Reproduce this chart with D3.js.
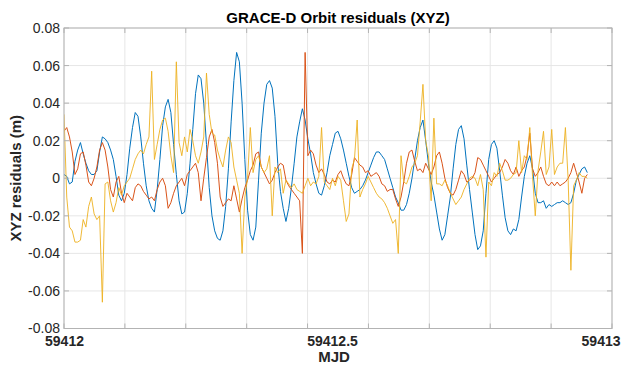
<!DOCTYPE html>
<html>
<head>
<meta charset="utf-8">
<script src="https://cdn.jsdelivr.net/npm/d3@7"></script>
<style>
  body { margin: 0; background: #fff; }
  svg { display: block; }
  text { font-family: "Liberation Sans", Arial, Helvetica, sans-serif; }
</style>
</head>
<body>
<svg id="chart" width="621" height="365"></svg>
<script>
// Sample spacing of the residual series (days), starting at MJD 59412
const t0 = 59412;
const dt = 0.005;

// X residuals (m) - blue
const xResid = [
  0.002, 0.001, -0.003, -0.002, 0.009, 0.015, 0.019, 0.013, 0.008, 0.004,
  0.002, 0.002, 0.004, 0.014, 0.022, 0.021, 0.019, 0.015, 0.010, 0.001,
  -0.009, -0.012, -0.008, 0.002, 0.016, 0.027, 0.035, 0.033, 0.022, 0.008,
  -0.004, -0.012, -0.016, -0.018, -0.006, 0.010, 0.028, 0.038, 0.042, 0.035,
  0.018, 0.002, -0.012, -0.019, -0.018, -0.008, 0.008, 0.026, 0.045, 0.055,
  0.053, 0.040, 0.018, -0.005, -0.020, -0.028, -0.032, -0.033, -0.028, -0.015,
  0.005, 0.030, 0.052, 0.067, 0.062, 0.040, 0.010, -0.017, -0.030, -0.033,
  -0.026, -0.001, 0.024, 0.040, 0.050, 0.052, 0.048, 0.033, 0.008, -0.007,
  -0.016, -0.023, -0.016, -0.005, 0.008, 0.022, 0.030, 0.037, 0.031, 0.021,
  0.013, 0.003, -0.003, -0.008, -0.009, -0.004, 0.003, 0.012, 0.018, 0.024,
  0.025, 0.021, 0.015, 0.008, 0.001, -0.005, -0.008, -0.007, -0.006, -0.004,
  -0.001, 0.003, 0.007, 0.011, 0.014, 0.014, 0.012, 0.010, 0.005, 0.000,
  -0.005, -0.010, -0.013, -0.017, -0.017, -0.014, -0.008, 0.000, 0.010, 0.020,
  0.027, 0.031, 0.020, 0.008, -0.002, -0.009, -0.018, -0.027, -0.033, -0.030,
  -0.020, -0.010, 0.005, 0.018, 0.026, 0.028, 0.021, 0.007, -0.006, -0.018,
  -0.030, -0.038, -0.036, -0.028, -0.008, 0.010, 0.018, 0.020, 0.016, 0.004,
  -0.009, -0.021, -0.028, -0.030, -0.027, -0.028, -0.022, -0.010, 0.001, 0.008,
  0.012, 0.005, -0.008, -0.013, -0.013, -0.012, -0.016, -0.014, -0.015, -0.014,
  -0.013, -0.013, -0.012, -0.013, -0.014, -0.013, -0.008, -0.001, 0.002, 0.005,
  0.006, 0.003
];

// Y residuals (m) - orange
const yResid = [
  0.025, 0.027, 0.022, 0.014, 0.002, 0.005, 0.013, 0.014, 0.007, -0.002,
  -0.004, 0.000, 0.006, 0.015, 0.019, 0.015, 0.006, -0.006, -0.010, -0.002,
  0.001, -0.008, -0.013, -0.008, -0.010, -0.012, -0.005, -0.003, -0.004, -0.007,
  -0.009, -0.011, -0.010, -0.012, -0.006, -0.002, 0.000, -0.004, -0.016, -0.013,
  -0.008, -0.004, -0.002, 0.000, -0.004, 0.002, 0.004, 0.006, 0.008, 0.003,
  -0.012, 0.000, 0.011, 0.022, 0.026, 0.019, 0.008, -0.010, -0.015, -0.013,
  -0.011, -0.012, -0.004, -0.011, -0.018, -0.011, -0.005, -0.001, 0.004, 0.007,
  0.013, 0.014, 0.006, 0.003, 0.000, -0.003, -0.001, 0.003, 0.006, 0.008,
  0.007, -0.001, -0.004, -0.006, -0.008, -0.010, -0.012, -0.040, 0.067, 0.012,
  0.015, 0.013, 0.007, 0.003, 0.005, 0.002, -0.002, -0.003, -0.001, -0.002,
  0.002, 0.004, 0.000, -0.003, -0.004, 0.002, 0.011, 0.009, 0.007, 0.006,
  0.003, 0.004, 0.001, 0.002, 0.003, 0.001, -0.003, -0.004, -0.007, -0.006,
  -0.006, -0.011, -0.015, -0.010, -0.002, 0.008, 0.014, 0.015, 0.009, 0.004,
  0.005, 0.003, 0.008, 0.005, 0.002, 0.006, 0.012, 0.014, 0.008, 0.000,
  -0.005, -0.008, -0.009, -0.006, -0.001, 0.004, 0.002, -0.002, -0.001, 0.000,
  0.003, 0.011, 0.010, 0.007, 0.004, 0.001, -0.002, 0.000, 0.002, 0.003,
  0.006, 0.010, 0.008, 0.004, 0.002, 0.006, 0.001, 0.004, 0.006, 0.012,
  0.024, 0.005, 0.001, 0.003, 0.006, 0.001, -0.003, -0.004, -0.002, -0.004,
  -0.002, -0.004, -0.003, -0.002, 0.000, 0.003, 0.008, 0.003, -0.002, -0.008,
  0.000, 0.002
];

// Z residuals (m) - yellow
const zResid = [
  0.034, -0.010, -0.026, -0.028, -0.034, -0.034, -0.033, -0.022, -0.026, -0.015,
  -0.010, -0.019, -0.022, -0.020, -0.066, -0.003, -0.002, -0.012, -0.018, -0.013,
  -0.005, -0.009, -0.004, -0.002, 0.000, 0.005, 0.010, 0.013, 0.015, 0.013,
  0.018, 0.022, 0.057, 0.010, 0.018, 0.026, 0.031, 0.032, 0.025, 0.012,
  0.003, 0.062, 0.019, 0.012, 0.022, 0.014, 0.026, 0.020, 0.012, 0.008,
  0.014, 0.022, 0.056, 0.034, 0.024, 0.023, 0.015, 0.010, 0.006, 0.015,
  0.022, 0.019, 0.006, -0.001, -0.008, -0.040, -0.010, 0.000, 0.027, 0.003,
  0.010, 0.012, 0.006, 0.003, 0.005, 0.012, -0.020, 0.006, 0.003, 0.005,
  -0.008, -0.001, -0.003, -0.005, -0.003, -0.006, -0.007, -0.008, -0.004, 0.000,
  -0.004, -0.002, -0.003, 0.001, 0.027, -0.002, -0.004, -0.006, 0.000, -0.004,
  0.001, -0.001, -0.012, -0.023, -0.019, 0.005, 0.010, 0.031, -0.010, -0.006,
  -0.003, 0.001, -0.002, -0.005, -0.008, -0.010, -0.011, -0.013, -0.016, -0.020,
  -0.024, -0.022, -0.040, 0.012, -0.002, -0.003, 0.001, 0.006, 0.008, 0.012,
  0.030, 0.050, 0.020, 0.012, -0.012, 0.032, -0.003, -0.003, -0.004, -0.001,
  -0.004, -0.008, -0.011, -0.014, -0.012, -0.010, -0.006, -0.003, 0.000, 0.001,
  0.000, -0.004, 0.002, -0.006, -0.042, -0.002, -0.004, 0.003, 0.001, 0.008,
  0.004, -0.001, -0.001, 0.000, 0.002, 0.003, 0.020, 0.003, 0.012, 0.010,
  0.027, 0.001, -0.020, 0.004, 0.014, 0.025, 0.002, 0.006, 0.026, 0.002,
  0.006, 0.008, 0.008, 0.027, -0.001, -0.049, -0.004, -0.001, 0.003, 0.001,
  0.001, 0.000
];

// Axis ticks and labels
const xDomain = [59412, 59413];
const xGridTicks = d3.range(10).map((i) => 59412 + i / 9);
const xLabelTicks = [59412, 59412.5, 59413];
const xLabelText = ["59412", "59412.5", "59413"];
const yTicks = [-0.08, -0.06, -0.04, -0.02, 0, 0.02, 0.04, 0.06, 0.08];

const series = [
  { name: "X", values: xResid, color: "#0072BD", width: 1 },
  { name: "Y", values: yResid, color: "#D95319", width: 1 },
  { name: "Z", values: zResid, color: "#EDB120", width: 0.9 },
];

const W = 621, H = 365;
const margin = { top: 28, right: 9, bottom: 36.5, left: 64 };
const w = W - margin.left - margin.right;
const h = H - margin.top - margin.bottom;

const svg = d3.select("#chart");
const g = svg.append("g").attr("transform", `translate(${margin.left},${margin.top})`);

const x = d3.scaleLinear().domain(xDomain).range([0, w]);
const y = d3.scaleLinear().domain([-0.08, 0.08]).range([h, 0]);

// Grid lines
g.append("g")
  .attr("class", "grid-x")
  .selectAll("line")
  .data(xGridTicks)
  .enter()
  .append("line")
  .attr("x1", (d) => x(d))
  .attr("x2", (d) => x(d))
  .attr("y1", 0)
  .attr("y2", h)
  .attr("stroke", "#e6e6e6")
  .attr("stroke-width", 1);

g.append("g")
  .attr("class", "grid-y")
  .selectAll("line")
  .data(yTicks)
  .enter()
  .append("line")
  .attr("x1", 0)
  .attr("x2", w)
  .attr("y1", (d) => y(d))
  .attr("y2", (d) => y(d))
  .attr("stroke", "#e6e6e6")
  .attr("stroke-width", 1);

// Residual lines, clipped to the axes box
svg.append("defs")
  .append("clipPath")
  .attr("id", "plot-clip")
  .append("rect")
  .attr("width", w)
  .attr("height", h);

const line = d3.line()
  .x((d, i) => x(t0 + i * dt))
  .y((d) => y(d));

g.append("g")
  .attr("clip-path", "url(#plot-clip)")
  .selectAll("path")
  .data(series)
  .enter()
  .append("path")
  .attr("d", (d) => line(d.values))
  .attr("fill", "none")
  .attr("stroke", (d) => d.color)
  .attr("stroke-width", (d) => d.width)
  .attr("stroke-linejoin", "round");

// Box with inward ticks on all four sides
const boxColor = "#b3b3b3";
const tickLen = 5;

g.append("rect")
  .attr("width", w)
  .attr("height", h)
  .attr("fill", "none")
  .attr("stroke", boxColor)
  .attr("stroke-width", 1);

const ticks = g.append("g").attr("stroke", boxColor).attr("stroke-width", 1);
xGridTicks.forEach((d) => {
  ticks.append("line").attr("x1", x(d)).attr("x2", x(d)).attr("y1", h).attr("y2", h - tickLen);
  ticks.append("line").attr("x1", x(d)).attr("x2", x(d)).attr("y1", 0).attr("y2", tickLen);
});
yTicks.forEach((d) => {
  ticks.append("line").attr("x1", 0).attr("x2", tickLen).attr("y1", y(d)).attr("y2", y(d));
  ticks.append("line").attr("x1", w).attr("x2", w - tickLen).attr("y1", y(d)).attr("y2", y(d));
});

// Tick labels
const xAxis = d3.axisBottom(x)
  .tickValues(xLabelTicks)
  .tickSize(0)
  .tickPadding(8)
  .tickFormat((d, i) => xLabelText[i]);

g.append("g")
  .attr("class", "x-axis")
  .attr("transform", `translate(0,${h})`)
  .call(xAxis)
  .call((sel) => sel.select(".domain").remove())
  .selectAll("text")
  .attr("font-size", "14px")
  .attr("font-weight", "bold")
  .attr("fill", "#262626")
  // middle label sits a little left of its tick, last one ends at the page edge
  .attr("dx", (d, i) => (i === 1 ? -6 : 0))
  .attr("text-anchor", (d, i) => (i === 2 ? "end" : "middle"))
  .attr("x", (d, i) => (i === 2 ? W - margin.left - w - 1 + 0 : 0) + (i === 2 ? 0 : 0));

// keep the last label inside the picture
g.select(".x-axis").selectAll(".tick")
  .filter((d) => d === 59413)
  .select("text")
  .attr("x", margin.right - 1);

const yAxis = d3.axisLeft(y)
  .tickValues(yTicks)
  .tickSize(0)
  .tickPadding(4)
  .tickFormat((d) => (d === 0 ? "0" : d.toFixed(2)));

g.append("g")
  .attr("class", "y-axis")
  .call(yAxis)
  .call((sel) => sel.select(".domain").remove())
  .selectAll("text")
  .attr("font-size", "14px")
  .attr("fill", "#262626");

// Title and axis labels
svg.append("text")
  .attr("x", margin.left + w / 2)
  .attr("y", 23)
  .attr("text-anchor", "middle")
  .attr("font-size", "15px")
  .attr("font-weight", "bold")
  .attr("fill", "#000")
  .text("GRACE-D Orbit residuals (XYZ)");

svg.append("text")
  .attr("x", margin.left + w / 2 - 4)
  .attr("y", 362)
  .attr("text-anchor", "middle")
  .attr("font-size", "15px")
  .attr("font-weight", "bold")
  .attr("fill", "#262626")
  .text("MJD");

svg.append("text")
  .attr("transform", `translate(21,${margin.top + h / 2}) rotate(-90)`)
  .attr("text-anchor", "middle")
  .attr("font-size", "15px")
  .attr("font-weight", "bold")
  .attr("fill", "#262626")
  .text("XYZ residuals (m)");
</script>
</body>
</html>
